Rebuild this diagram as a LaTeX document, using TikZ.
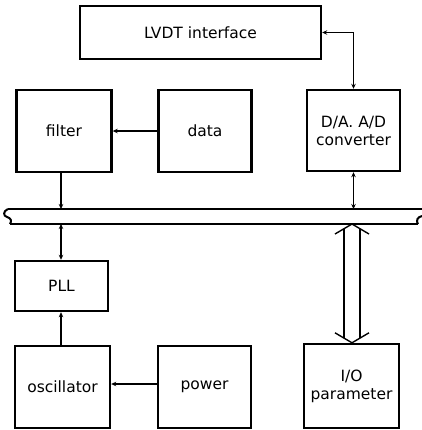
\documentclass[tikz,border=0pt]{standalone}
\usepackage{fontspec}
\setmainfont{DejaVu Sans}
\usetikzlibrary{arrows.meta,calc}
\begin{document}
\begin{tikzpicture}[x=1bp,y=-1bp,
  blk/.style={draw,line width=2.4bp,rectangle,inner sep=0pt,align=center,font=\fontsize{15.5bp}{18bp}\selectfont},
  conn/.style={line width=1.1bp},
  tip/.style={-{Stealth[length=5bp,width=4.5bp]}},
  tips/.style={{Stealth[length=5bp,width=4.5bp]}-{Stealth[length=5bp,width=4.5bp]}},
  busline/.style={line width=2bp},
  hollow/.style={line width=1.4bp}]
\useasboundingbox (0,0) rectangle (422,430);
% boxes
\node[blk,minimum width=241bp,minimum height=53bp] (lvdt) at (200.5,32.5) {LVDT interface};
\node[blk,minimum width=95bp,minimum height=82bp] (filter) at (64,131) {filter};
\node[blk,minimum width=93bp,minimum height=82bp] (data) at (205,131) {data};
\node[blk,minimum width=93bp,minimum height=81bp] (dad) at (353.5,130.5) {D/A. A/D\\converter};
\node[blk,minimum width=93bp,minimum height=50bp] (pll) at (61.5,286) {PLL};
\node[blk,minimum width=95bp,minimum height=82bp] (osc) at (62.5,387) {oscillator};
\node[blk,minimum width=93bp,minimum height=82bp] (power) at (204.5,387) {power};
\node[blk,minimum width=95bp,minimum height=84bp] (io) at (351.5,386) {I/O\\parameter};
% bus
\coordinate (bt1) at (61,209);
\coordinate (bt2) at (353.5,209);
\coordinate (bb1) at (61,224);
\coordinate (bb2) at (352,224);
\draw[busline] (8,209) -- (422,209);
\draw[busline] (10,224) -- (418,224);
\draw[busline] (8,209) .. controls (3,211) and (3,216) .. (7,217) .. controls (11,218) and (12,221) .. (10,224);
\draw[busline] (418,224) .. controls (416,221) and (417,217) .. (422,216);
% connectors
\draw[conn,tips] (lvdt.east) -| (dad.north);
\draw[conn,tip] (data.west) -- (filter.east);
\draw[conn,tip] (bt1 |- filter.south) -- (bt1);
\draw[conn,tips] (dad.south) -- (bt2);
\draw[conn,tips] (bb1) -- (bb1 |- pll.north);
\draw[conn,tip] (bb1 |- osc.north) -- (bb1 |- pll.south);
\draw[conn,tip] ($(power.west)+(0,-3)$) -- ($(osc.east)+(0,-3)$);
% hollow double arrow
\coordinate (ht) at (bb2);
\coordinate (hb) at (bb2 |- io.north);
\draw[hollow] ($(ht)+(-17,10)$) -- (ht) -- ($(ht)+(17,10)$);
\draw[hollow] ($(ht)+(-8,5)$) -- ($(hb)+(-8,-5)$);
\draw[hollow] ($(ht)+(8,5)$) -- ($(hb)+(8,-5)$);
\draw[hollow] ($(hb)+(-17,-10)$) -- (hb) -- ($(hb)+(17,-10)$);
\end{tikzpicture}
\end{document}
